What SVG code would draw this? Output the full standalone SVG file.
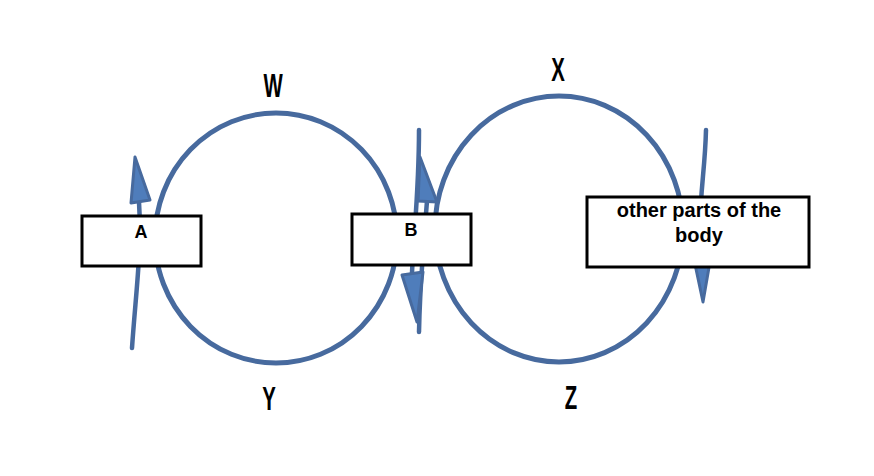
<svg xmlns="http://www.w3.org/2000/svg" width="874" height="476" viewBox="0 0 874 476">
<style>
.loop{fill:none;stroke:#476a9e;stroke-width:5}
.ln{fill:none;stroke:#476a9e;stroke-width:4.5;stroke-linecap:round}
.head{fill:#4f7dbb;stroke:#476a9e;stroke-width:3;stroke-linejoin:round}
.box{fill:#ffffff;stroke:#000000;stroke-width:3}
.bt{font-family:"Liberation Sans",Arial,sans-serif;font-weight:bold;font-size:18px;fill:#000;text-anchor:middle}
.bt2{font-size:20px}
.lab{font-family:"Liberation Sans",Arial,sans-serif;font-weight:bold;font-size:34px;fill:#000;text-anchor:middle}
</style>
<rect width="874" height="476" fill="#ffffff"/>
<g id="connectors">
<ellipse class="loop" cx="276" cy="238" rx="121" ry="125"/>
<ellipse class="loop" cx="559" cy="229" rx="124" ry="133"/>
<path class="ln" d="M132,348 C136,290 142,250 139,202"/>
<polygon class="head" points="135,157 131,203 150,200"/>
<path class="ln" d="M419,332 C420,280 424,240 427,201"/>
<polygon class="head" points="420,157 418,201 437,202"/>
<path class="ln" d="M419,130 C419,190 414,230 412,273"/>
<polygon class="head" points="417,322 402,275 423,272"/>
<path class="ln" d="M706,130 C705,170 700,190 700,230"/>
<polygon class="head" points="703,302 692,250 712,250"/>
</g>
<g id="A">
<rect class="box" x="82" y="216" width="119" height="50"/>
<text class="bt" x="141" y="238">A</text>
</g>
<g id="B">
<rect class="box" x="352" y="214" width="119" height="51"/>
<text class="bt" x="411" y="236">B</text>
</g>
<g id="body">
<rect class="box" x="587" y="197" width="222" height="70"/>
<text class="bt bt2" x="699" y="217">other parts of the</text>
<text class="bt bt2" x="699" y="242">body</text>
</g>
<g id="labels">
<text class="lab" transform="translate(273,97) scale(0.6,1)">W</text>
<text class="lab" transform="translate(558,81) scale(0.6,1)">X</text>
<text class="lab" transform="translate(269,410) scale(0.6,1)">Y</text>
<text class="lab" transform="translate(571,409) scale(0.6,1)">Z</text>
</g>
</svg>
